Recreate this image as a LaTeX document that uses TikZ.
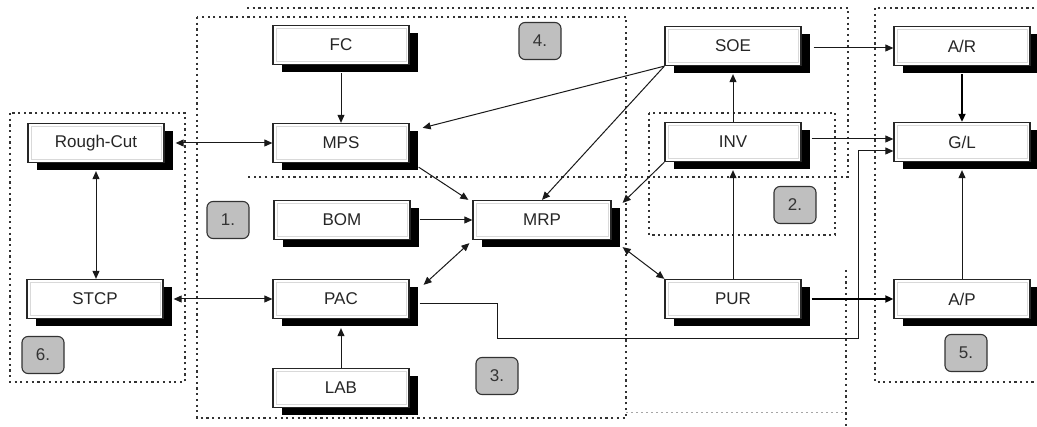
\documentclass[tikz,border=0pt]{standalone}
\usepackage{fontspec}
\setmainfont{Liberation Sans}
\usetikzlibrary{arrows.meta,shadows,calc}
\begin{document}
\begin{tikzpicture}[x=1pt,y=-1pt,
  >={Triangle[length=8pt,width=7pt]},
  box/.style={draw=black!85, line width=1.3pt, fill=white,
    minimum width=136pt, minimum height=39pt, inner sep=0pt,
    font=\fontsize{17}{19}\selectfont, text=black!85,
    general shadow={fill=black, shadow xshift=9pt, shadow yshift=-8pt},
    path picture={\draw[black!15,line width=0.6pt]
      ([shift={(3pt,-3pt)}]path picture bounding box.north west) rectangle
      ([shift={(-3pt,3pt)}]path picture bounding box.south east);}},
  tag/.style={draw=black!80, line width=1.1pt, fill=black!25, rounded corners=6pt,
    minimum width=42pt, minimum height=37pt, inner sep=0pt,
    font=\fontsize{17}{19}\selectfont, text=black!80},
  region/.style={draw=black!80, line width=1.6pt, dash pattern=on 2.2pt off 3.5pt},
  faint/.style={draw=black!35, line width=1pt, dash pattern=on 2pt off 3pt},
  conn/.style={draw=black!90, line width=1pt},
  thick conn/.style={draw=black, line width=1.8pt}]
\useasboundingbox[fill=white] (0,0) rectangle (1037,427);

% regions
\draw[region] (10,113) rectangle (185,382);
\draw[region] (197,17) rectangle (626,418);
\draw[region] (247,8) -- (848,8) -- (848,177) -- (245,177);
\draw[region] (649,113) rectangle (835,235);
\draw[region] (1040,8) -- (875,8) -- (875,382) -- (1040,382);
\draw[region] (846,270) -- (846,430);
\draw[faint] (626,413) -- (846,413);

% boxes
\node[box] (fc) at (341,45) {FC};
\node[box] (mps) at (341,143) {MPS};
\node[box] (rc) at (96,143) {Rough-Cut};
\node[box] (bom) at (342,220) {BOM};
\node[box] (stcp) at (95,299) {STCP};
\node[box] (pac) at (341,299) {PAC};
\node[box] (lab) at (341,388) {LAB};
\node[box, minimum width=138pt] (mrp) at (542,220) {MRP};
\node[box] (soe) at (733,46) {SOE};
\node[box] (inv) at (733,142) {INV};
\node[box] (pur) at (733,299) {PUR};
\node[box] (ar) at (962,46) {A/R};
\node[box] (gl) at (962,142) {G/L};
\node[box] (ap) at (962,299) {A/P};

% tags
\node[tag] (t1) at (228,220) {1.};
\node[tag] (t2) at (795,205) {2.};
\node[tag] (t3) at (497,376) {3.};
\node[tag] (t4) at (540,41) {4.};
\node[tag] (t5) at (966,353) {5.};
\node[tag] (t6) at (43,355) {6.};

% helper coordinates
\coordinate (k1) at (497,339);
\coordinate (k2) at (858,151);

% connectors
\draw[conn,->] ([yshift=-8pt]fc.south) -- (mps.north);
\draw[conn,<->] ([xshift=11pt]rc.east) -- (mps.west);
\draw[conn,<->] ([yshift=-8pt]rc.south) -- (rc.south |- stcp.north);
\draw[conn,<->] ([xshift=10pt]stcp.east) -- (pac.west);
\draw[conn,->] (lab.north) -- ([yshift=-9pt]pac.south);
\draw[conn,->] ([xshift=9pt,yshift=-4pt]mps.south east) -- ([xshift=-4pt]mrp.north west);
\draw[conn,->] (soe.south west) -- ([xshift=13pt,yshift=-5pt]mps.north east);
\draw[conn,->] (soe.south west) -- (mrp.north);
\draw[conn,->] (inv.south west) -- ([xshift=11pt,yshift=-3pt]mrp.north east);
\draw[conn,->] (inv.north) -- ([yshift=-8pt]soe.south);
\draw[conn,->] (pur.north) -- ([yshift=-8pt]inv.south);
\draw[conn,->] ([xshift=9pt]bom.east) -- (mrp.west);
\draw[conn,<->] ([xshift=14pt,yshift=-6pt]pac.north east) -- ([xshift=-3pt,yshift=-3pt]mrp.south west);
\draw[conn,<->] ([xshift=11pt,yshift=-7pt]mrp.south east) -- (pur.north west);
\draw[conn,->] ([xshift=12pt,yshift=-2pt]soe.east) coordinate (s1) -- (s1 -| ar.west);
\draw[thick conn,->] ([yshift=-8pt]ar.south) -- (gl.north);
\draw[conn,->] ([xshift=10pt,yshift=3pt]inv.east) coordinate (i1) -- (i1 -| gl.west);
\draw[conn,->] ([xshift=10pt,yshift=-5pt]pac.east) -| (k1) -| (k2) -- (k2 -| gl.west);
\draw[thick conn,->] ([xshift=10pt]pur.east) -- (ap.west);
\draw[conn,->] (ap.north) -- ([yshift=-8pt]gl.south);
\end{tikzpicture}
\end{document}
